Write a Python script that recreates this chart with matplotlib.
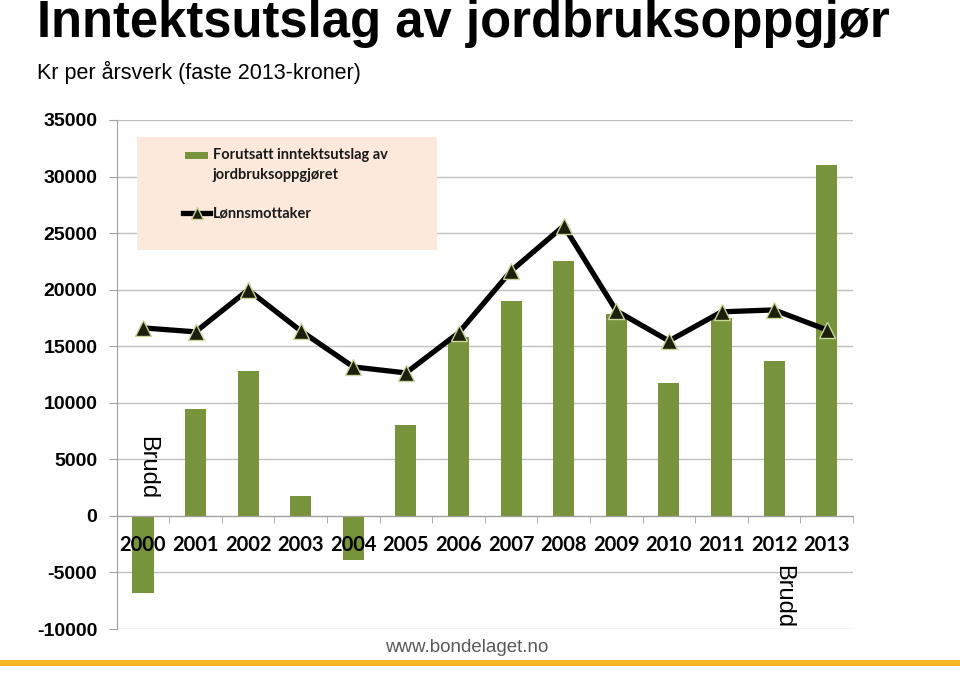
import matplotlib
matplotlib.use("Agg")
import matplotlib.pyplot as plt
from matplotlib.patches import Rectangle
from matplotlib.lines import Line2D
import numpy as np

years = ["2000", "2001", "2002", "2003", "2004", "2005", "2006", "2007",
         "2008", "2009", "2010", "2011", "2012", "2013"]
utslag = [-6800, 9460, 12820, 1770, -3890, 8050, 15830, 19010,
          22550, 17860, 11760, 17510, 13700, 31030]
lonn = [16620, 16270, 19980, 16360, 13170, 12640, 16180, 21660,
        25640, 18130, 15470, 18040, 18210, 16450]
yticks = [-10000, -5000, 0, 5000, 10000, 15000, 20000, 25000, 30000, 35000]
bar_label_lines = ["Forutsatt inntektsutslag av", "jordbruksoppgjøret"]
line_label = "Lønnsmottaker"

W, H = 960, 691
fig = plt.figure(figsize=(W / 100, H / 100), dpi=100)
fig.patch.set_facecolor("white")

def fx(px):
    return px / W

def fy(py):
    return 1 - py / H

left, right, top, bottom = 116.7, 853, 120, 629
ax = fig.add_axes([fx(left), fy(bottom), (right - left) / W, (bottom - top) / H])

x = np.arange(len(years))
bar_color = "#77933C"
mface, medge = "#1c1f0c", "#C9D89A"
ax.bar(x, utslag, width=0.4, color=bar_color, zorder=2)
ax.plot(x, lonn, color="black", lw=3.8, marker="^", markersize=12,
        markerfacecolor=mface, markeredgecolor=medge, markeredgewidth=1.0,
        zorder=3)

ax.set_xlim(-0.5, len(years) - 0.5)
ax.set_ylim(-10000, 35000)
ax.set_yticks(yticks)
ax.set_yticklabels([str(v) for v in yticks], fontfamily="Liberation Sans",
                   fontweight="bold", fontsize=14)
ax.yaxis.grid(True, color="#BFBFBF", lw=1.0)
ax.set_axisbelow(True)
ax.xaxis.set_zorder(4)
ax.tick_params(axis="y", length=6, color="#A0A0A0", pad=8)

for s in ["top", "right"]:
    ax.spines[s].set_visible(False)
ax.spines["left"].set_color("#A0A0A0")
ax.spines["bottom"].set_position(("data", 0))
ax.spines["bottom"].set_color("#A0A0A0")
ax.spines["bottom"].set_zorder(2.5)

ax.set_xticks(x)
ax.set_xticklabels(years, fontfamily="Lato", fontweight="bold", fontsize=14.5)
ax.tick_params(axis="x", which="major", length=0, pad=14)
ax.set_xticks(np.arange(len(years) + 1) - 0.5, minor=True)
ax.tick_params(axis="x", which="minor", length=5, color="#A0A0A0")

# "Brudd" annotations
ax.text(years.index("2000") + 0.08, 4240, "Brudd", rotation=-90, ha="center", va="center",
        fontfamily="Liberation Sans", fontsize=17, zorder=5)
ax.text(years.index("2012") + 0.17, -7160, "Brudd", rotation=-90, ha="center", va="center",
        fontfamily="Liberation Sans", fontsize=17, zorder=5)

# Legend (drawn in figure coordinates)
fig.patches.append(Rectangle((fx(137), fy(250)), 300 / W, 113 / H,
                             transform=fig.transFigure, facecolor="#FCE9DB",
                             edgecolor="none", zorder=1))
fig.patches.append(Rectangle((fx(185), fy(158.5)), 23 / W, 7 / H,
                             transform=fig.transFigure, facecolor=bar_color,
                             edgecolor="none", zorder=2))
leg_font = dict(fontfamily="Lato", fontweight="bold", fontsize=10.5,
                va="center", ha="left", zorder=3, color="#1a1a1a")
fig.text(fx(213), fy(155), bar_label_lines[0], **leg_font)
fig.text(fx(213), fy(175), bar_label_lines[1], **leg_font)
fig.lines.append(Line2D([fx(183), fx(210)], [fy(213), fy(213)], transform=fig.transFigure,
                        color="black", lw=3.8, zorder=2))
fig.lines.append(Line2D([fx(197)], [fy(213)], transform=fig.transFigure,
                        marker="^", markersize=9, markerfacecolor=mface,
                        markeredgecolor=medge, linestyle="none", zorder=3))
fig.text(fx(213), fy(213), line_label, **leg_font)

# Titles
fig.text(fx(37), fy(24), "Inntektsutslag av jordbruksoppgjør", fontfamily="Liberation Sans",
         fontweight="bold", fontsize=36.5, va="center", ha="left")
fig.text(fx(37), fy(72), "Kr per årsverk (faste 2013-kroner)", fontfamily="Liberation Sans",
         fontsize=15.5, va="center", ha="left")

# Footer
fig.text(fx(467), fy(648), "www.bondelaget.no",
         fontfamily=["Liberation Sans Narrow", "Liberation Sans"], fontsize=13.5,
         color="#595959", ha="center", va="center")
fig.patches.append(Rectangle((0, fy(666)), 1, 6 / H, transform=fig.transFigure,
                             facecolor="#F8B522", edgecolor="none"))

fig.savefig("out.png", dpi=100)
